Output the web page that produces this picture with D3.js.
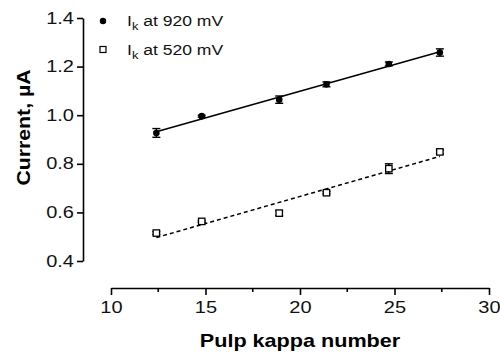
<!DOCTYPE html>
<html>
<head>
<meta charset="utf-8">
<script src="https://cdn.jsdelivr.net/npm/d3@7"></script>
<style>
  body { margin: 0; background: #fff; }
  svg { font-family: "Liberation Sans", Arial, sans-serif; }
</style>
</head>
<body>
<div id="chart"></div>
<script>
// kappa numbers (x) shared by both series
const kappa = [12.4, 14.8, 18.9, 21.4, 24.7, 27.4];
// Ik at 920 mV
const ik920 = [0.927, 0.996, 1.064, 1.127, 1.211, 1.258];
const err920 = [0.018, 0.004, 0.015, 0.010, 0.008, 0.015];
// Ik at 520 mV
const ik520 = [0.515, 0.563, 0.597, 0.681, 0.780, 0.849];
const err520 = [0.006, 0.004, 0.010, 0.005, 0.020, 0.008];

const xTicks = [10, 15, 20, 25, 30];
const xMinor = [12.5, 17.5, 22.5, 27.5];
const yTicks = [0.4, 0.6, 0.8, 1.0, 1.2, 1.4];

const width = 500, height = 354;
const stretch = 1.25; // the original lettering is wide

const svg = d3.select('#chart').append('svg')
  .attr('width', width)
  .attr('height', height);

const x = d3.scaleLinear().domain([10, 30]).range([111, 489]);
const y = d3.scaleLinear().domain([0.4, 1.4]).range([261, 18]);

// y axis
const yAxis = svg.append('g')
  .attr('transform', 'translate(83,0)')
  .call(d3.axisLeft(y).tickValues(yTicks).tickFormat(d3.format('.1f')).tickSize(6).tickSizeOuter(0));
yAxis.select('.domain').attr('stroke-width', 1.6);
yAxis.selectAll('.tick line').attr('stroke-width', 1.6);
yAxis.selectAll('.tick text').attr('font-size', 16).attr('fill', '#111')
  .attr('x', 0).attr('transform', `translate(-9,0) scale(${stretch},1)`);

// x axis
const xAxis = svg.append('g')
  .attr('transform', 'translate(0,288)')
  .call(d3.axisBottom(x).tickValues(xTicks).tickSize(7).tickSizeOuter(0));
xAxis.select('.domain').attr('stroke-width', 1.6);
xAxis.selectAll('.tick line').attr('stroke-width', 1.6);
xAxis.selectAll('.tick text').attr('font-size', 16).attr('fill', '#111')
  .attr('y', 0).attr('dy', 0).attr('transform', `translate(0,25) scale(${stretch},1)`);
xAxis.selectAll('.minor').data(xMinor).enter().append('line')
  .attr('x1', d => x(d)).attr('x2', d => x(d))
  .attr('y1', 0).attr('y2', 4)
  .attr('stroke', '#000').attr('stroke-width', 1.6);

// axis titles
svg.append('text')
  .attr('transform', `translate(30,${(y(0.4) + y(1.4)) / 2 - 12}) rotate(-90) scale(1.18,1)`)
  .attr('text-anchor', 'middle')
  .attr('font-size', 18).attr('font-weight', 'bold')
  .text('Current, µA');

svg.append('text')
  .attr('transform', `translate(300,347) scale(1.2,1)`)
  .attr('text-anchor', 'middle')
  .attr('font-size', 18).attr('font-weight', 'bold')
  .text('Pulp kappa number');

// linear fit
function fit(xs, ys) {
  const mx = d3.mean(xs), my = d3.mean(ys);
  const sxy = d3.sum(xs, (v, i) => (v - mx) * (ys[i] - my));
  const sxx = d3.sum(xs, v => (v - mx) * (v - mx));
  const b = sxy / sxx;
  return v => my + b * (v - mx);
}

function drawSeries(vals, errs, filled, dash) {
  const f = fit(kappa, vals);
  const ext = d3.extent(kappa);
  svg.append('line')
    .attr('x1', x(ext[0])).attr('y1', y(f(ext[0])))
    .attr('x2', x(ext[1])).attr('y2', y(f(ext[1])))
    .attr('stroke', '#000').attr('stroke-width', 1.5)
    .attr('stroke-dasharray', dash ? '4,3' : null);

  const g = svg.append('g');
  kappa.forEach((k, i) => {
    const cx = x(k), cy = y(vals[i]);
    const top = y(vals[i] + errs[i]), bot = y(vals[i] - errs[i]);
    g.append('line').attr('x1', cx).attr('x2', cx).attr('y1', top).attr('y2', bot)
      .attr('stroke', '#000').attr('stroke-width', 1.4);
    [top, bot].forEach(yy => g.append('line')
      .attr('x1', cx - 4).attr('x2', cx + 4).attr('y1', yy).attr('y2', yy)
      .attr('stroke', '#000').attr('stroke-width', 1.4));
    if (filled) {
      g.append('circle').attr('cx', cx).attr('cy', cy).attr('r', 3.3).attr('fill', '#000');
    } else {
      g.append('rect').attr('x', cx - 3.2).attr('y', cy - 3.2).attr('width', 6.4).attr('height', 6.4)
        .attr('fill', '#fff').attr('stroke', '#000').attr('stroke-width', 1.3);
    }
  });
}

drawSeries(ik920, err920, true, false);
drawSeries(ik520, err520, false, true);

// legend
const legend = svg.append('g');
legend.append('circle').attr('cx', 103).attr('cy', 21).attr('r', 3.2).attr('fill', '#000');
legend.append('rect').attr('x', 100).attr('y', 46.5).attr('width', 6).attr('height', 6)
  .attr('fill', '#fff').attr('stroke', '#000').attr('stroke-width', 1.2);

[['920', 26], ['520', 55]].forEach(([v, by]) => {
  const t = legend.append('text')
    .attr('transform', `translate(127,${by}) scale(1.17,1)`)
    .attr('font-size', 15).attr('fill', '#111');
  t.append('tspan').text('I');
  t.append('tspan').attr('font-size', 11).attr('dy', 4).text('k');
  t.append('tspan').attr('dy', -4).text(` at ${v} mV`);
});
</script>
</body>
</html>
